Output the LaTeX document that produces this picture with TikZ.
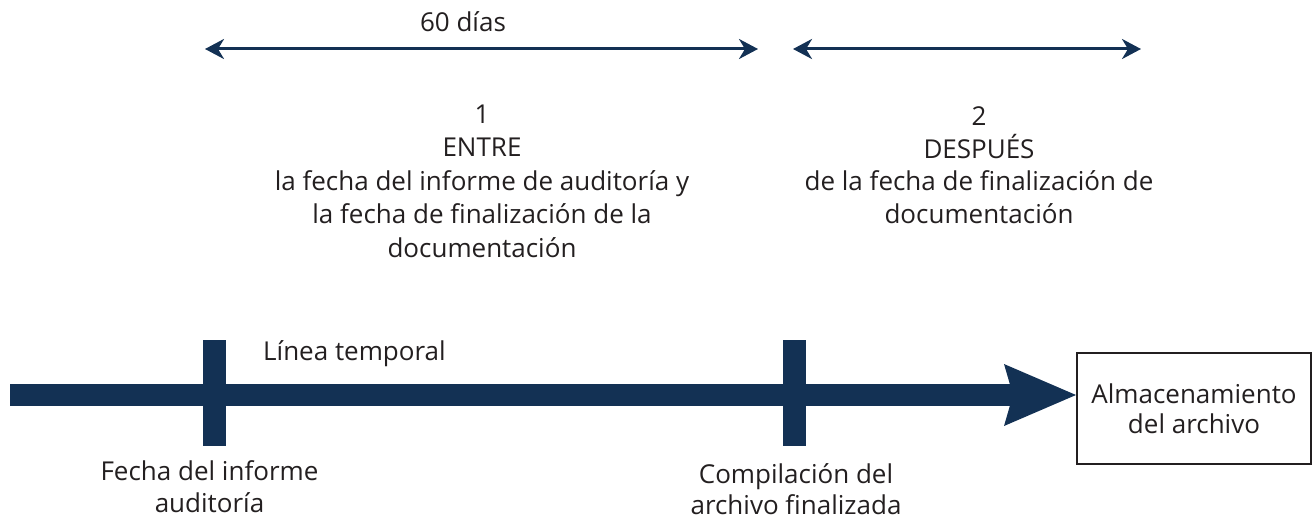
\documentclass[tikz,border=0pt]{standalone}
\usepackage{fontspec}
\setmainfont{Open Sans}
\usetikzlibrary{arrows.meta}
\definecolor{navy}{RGB}{19,49,84}
\definecolor{ink}{RGB}{35,31,32}
\begin{document}
\begin{tikzpicture}[x=1pt,y=-1pt,
  txt/.style={text=ink,inner sep=0pt,align=center,font=\fontsize{26}{33.5}\selectfont},
  tickbar/.style={fill=navy,inner sep=0pt,minimum width=23pt,minimum height=106pt},
  span/.style={navy,line width=3pt,{Stealth[length=19pt,width=20pt,inset=6pt]}-{Stealth[length=19pt,width=20pt,inset=6pt]}},
  boxnode/.style={draw=ink,line width=2pt,inner sep=0pt,minimum width=234pt,minimum height=111pt,align=center,text=ink,font=\fontsize{26}{30}\selectfont}
]
\useasboundingbox (0,0) rectangle (1314,519);
% spans
\coordinate (s1a) at (205,49);
\coordinate (s1b) at (758,49);
\coordinate (s2a) at (793,49);
\coordinate (s2b) at (1141,49);
\draw[span] (s1a) -- (s1b);
\draw[span] (s2a) -- (s2b);
\node[txt,anchor=base] (dias) at (463,32) {60 días};
% blocks
\node[txt,anchor=north] (b1) at (482,104.5) {1\\ENTRE\\la fecha del informe de auditoría y\\la fecha de finalización de la\\documentación};
\node[txt,anchor=north,font=\fontsize{26}{32.5}\selectfont] (b2) at (979,106.5) {2\\DESPUÉS\\de la fecha de finalización de\\documentación};
% box
\node[boxnode] (box) at (1194,408.5) {Almacenamiento\\del archivo};
% main arrow
\coordinate (start) at (10,395);
\draw[navy,line width=22pt,-{Stealth[length=72pt,width=62pt,inset=9pt,line width=0pt]}] (start) -- (start -| box.west);
% ticks
\node[tickbar] (t1) at (214.5,393) {};
\node[tickbar] (t2) at (794,393) {};
\node[txt,anchor=base west] (tl) at (263,360) {Línea temporal};
\node[txt,anchor=north,font=\fontsize{26}{32.5}\selectfont] (l1) at (209.5,460) {Fecha del informe\\auditoría};
\node[txt,anchor=north,font=\fontsize{26}{30.5}\selectfont] (l2) at (796,463.5) {Compilación del\\archivo finalizada};
\end{tikzpicture}
\end{document}
